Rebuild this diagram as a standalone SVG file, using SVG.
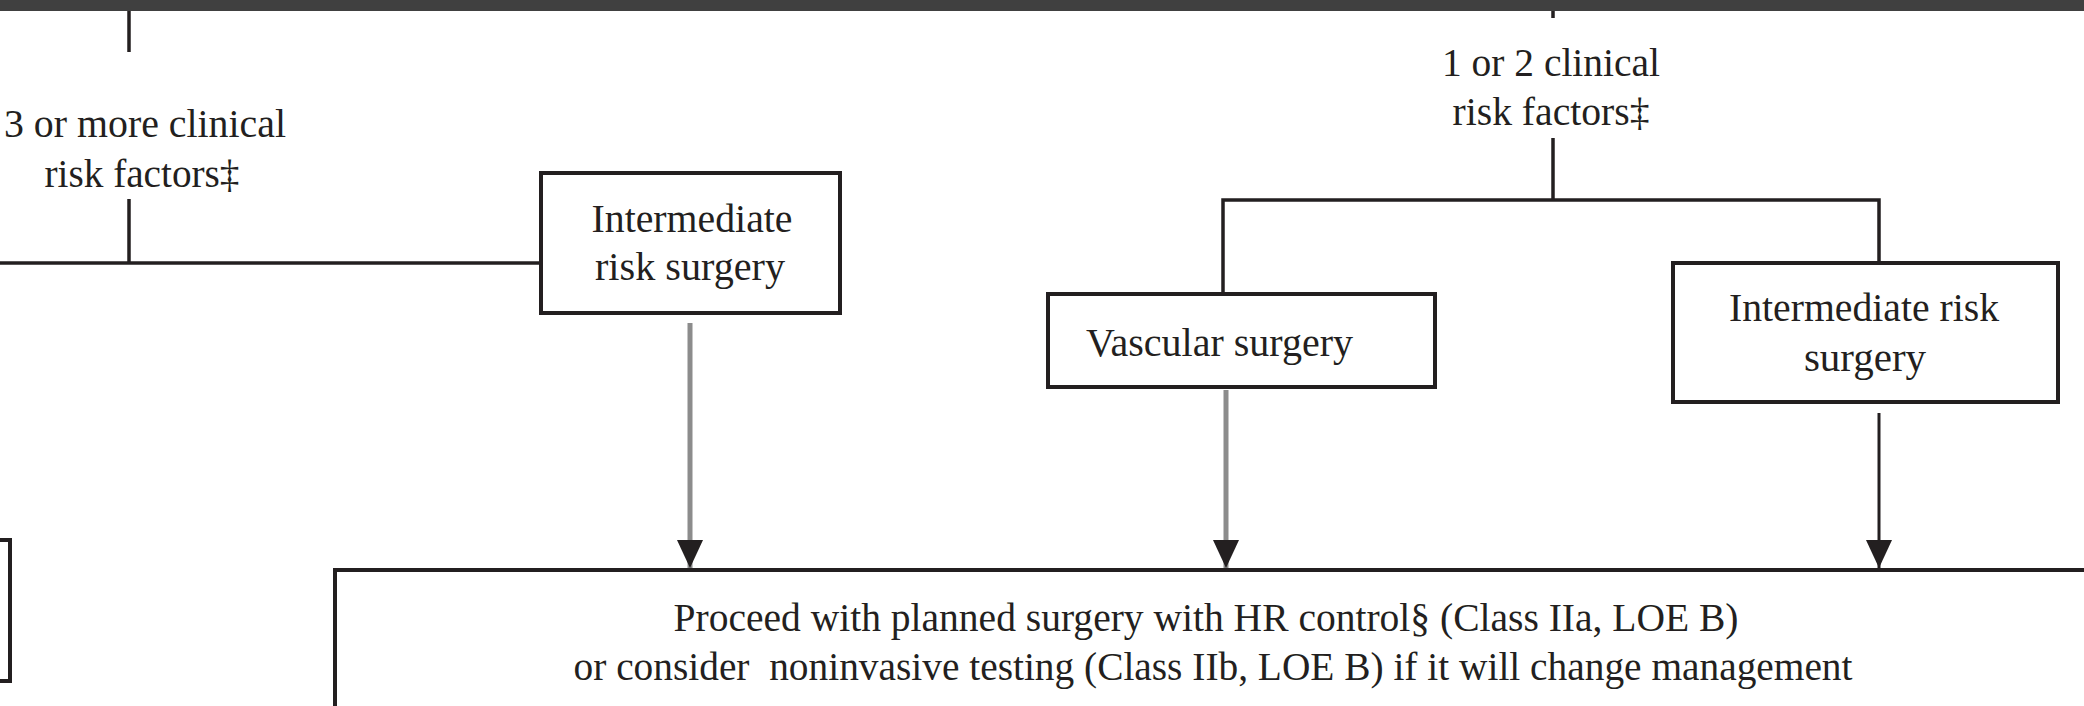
<svg xmlns="http://www.w3.org/2000/svg" width="2084" height="706" viewBox="0 0 2084 706">
<style>
.box{fill:#fff;stroke:#231f20;stroke-width:4}
.ln{fill:none;stroke:#231f20;stroke-width:3.5}
.gray{fill:none;stroke:#8c8c8c;stroke-width:5}
.blk{fill:none;stroke:#231f20;stroke-width:3}
text{font-family:"Liberation Serif","Times New Roman",serif;font-size:41px;fill:#231f20;white-space:pre}
.c{text-anchor:middle}
</style>
<defs>
<marker id="ah" markerUnits="userSpaceOnUse" markerWidth="28" markerHeight="26" refX="28" refY="13" orient="auto">
<path d="M0,0 L28,13 L0,26 z" fill="#231f20"/>
</marker>
</defs>
<rect x="0" y="0" width="2084" height="11" fill="#404040"/>
<g id="connectors">
<line class="ln" x1="129" y1="11" x2="129" y2="52"/>
<line class="ln" x1="129" y1="199" x2="129" y2="263"/>
<line class="ln" x1="0" y1="263" x2="541" y2="263"/>
<line class="ln" x1="1553" y1="11" x2="1553" y2="18"/>
<line class="ln" x1="1553" y1="138" x2="1553" y2="200"/>
<polyline class="ln" points="1223,294 1223,200 1879,200 1879,263"/>
<line class="gray" x1="690" y1="323" x2="690" y2="568" marker-end="url(#ah)"/>
<line class="gray" x1="1226" y1="390" x2="1226" y2="568" marker-end="url(#ah)"/>
<line class="blk" x1="1879" y1="413" x2="1879" y2="568" marker-end="url(#ah)"/>
</g>
<g id="label-3-or-more">
<text class="c" x="145" y="137" textLength="282" lengthAdjust="spacingAndGlyphs">3 or more clinical</text>
<text class="c" x="142" y="187" textLength="195" lengthAdjust="spacingAndGlyphs">risk factors‡</text>
</g>
<g id="label-1-or-2">
<text class="c" x="1551" y="76" textLength="218" lengthAdjust="spacingAndGlyphs">1 or 2 clinical</text>
<text class="c" x="1551" y="125" textLength="197" lengthAdjust="spacingAndGlyphs">risk factors‡</text>
</g>
<g id="node-intermediate-left">
<rect class="box" x="541" y="173" width="299" height="140"/>
<text class="c" x="692" y="232" textLength="201" lengthAdjust="spacingAndGlyphs">Intermediate</text>
<text class="c" x="690" y="280" textLength="190" lengthAdjust="spacingAndGlyphs">risk surgery</text>
</g>
<g id="node-vascular">
<rect class="box" x="1048" y="294" width="387" height="93"/>
<text x="1086" y="356" textLength="267" lengthAdjust="spacingAndGlyphs">Vascular surgery</text>
</g>
<g id="node-intermediate-right">
<rect class="box" x="1673" y="263" width="385" height="139"/>
<text class="c" x="1864" y="321" textLength="270" lengthAdjust="spacingAndGlyphs">Intermediate risk</text>
<text class="c" x="1865" y="371">surgery</text>
</g>
<g id="node-left-partial">
<rect class="box" x="-200" y="540" width="210" height="141"/>
</g>
<g id="node-proceed">
<rect class="box" x="335" y="570" width="1760" height="200"/>
<text class="c" x="1206" y="631" textLength="1065" lengthAdjust="spacingAndGlyphs">Proceed with planned surgery with HR control§ (Class IIa, LOE B)</text>
<text class="c" x="1213" y="680" textLength="1279" lengthAdjust="spacingAndGlyphs">or consider  noninvasive testing (Class IIb, LOE B) if it will change management</text>
</g>
</svg>
